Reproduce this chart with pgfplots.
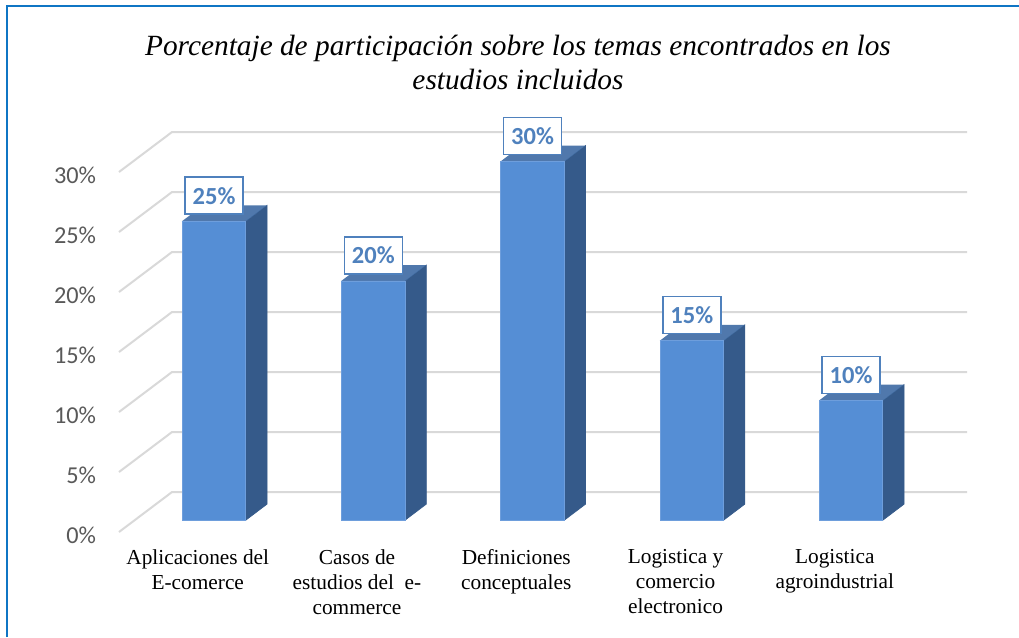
\documentclass[border=0pt]{standalone}
\usepackage{fontspec}
\setmainfont{Liberation Serif}
\newfontfamily\calfont{Carlito}
\usepackage{pgfplots}
\pgfplotsset{compat=1.18}
\definecolor{front}{HTML}{558ED5}
\definecolor{edge}{HTML}{6E9EDC}
\definecolor{side}{HTML}{355A8A}
\definecolor{topf}{HTML}{3D6AA3}
\definecolor{lab}{HTML}{4F81BD}
\definecolor{gridc}{HTML}{D9D9D9}
\definecolor{framec}{HTML}{0F75C4}
\definecolor{tickc}{HTML}{595959}
\begin{document}
\begin{tikzpicture}[x=1pt,y=1pt]
\useasboundingbox (0,0) rectangle (764.25,477.75);
\fill[white] (0,0) rectangle (764.25,477.75);
\draw[framec,line width=1.9pt] (5.1,0) -- (5.1,473.2) -- (764.25,473.2);
\node[font=\itshape\fontsize{22}{26}\selectfont,align=center,text=black,inner sep=0] at (388.5,430.8)
  {Porcentaje de participación sobre los temas encontrados en los\\estudios incluidos};
% wall and gridlines
\begin{axis}[
  at={(89.25pt,78.75pt)},anchor=south west,scale only axis,
  width=636pt,height=324pt,
  xmin=0,xmax=848,ymin=0,ymax=36,clip=false,
  xtick=\empty,
  ytick={0,5,10,15,20,25,30},
  yticklabels={0\%,5\%,10\%,15\%,20\%,25\%,30\%},
  major tick length=0pt,
  axis line style={draw=none},
  axis y line=left,axis x line=none,
  /pgf/number format/assume math mode=true,
  yticklabel style={font=\calfont\fontsize{18.2}{20}\selectfont,text=tickc,anchor=east,inner sep=0pt,xshift=-17pt,yshift=-2.8pt},
]
\pgfplotsinvokeforeach{0,5,10,15,20,25,30}{
  \addplot[gridc,line width=1.5pt,forget plot,line join=round] coordinates {(0,#1) (53,#1+3.33) (848,#1+3.33)};
}
\end{axis}
% bars
\begin{axis}[
  at={(89.25pt,87.75pt)},anchor=south west,scale only axis,
  width=636pt,height=313.7pt,
  xmin=-0.5965,xmax=4.728,ymin=0,ymax=35,clip=false,
  xtick={0,1,2,3,4},
  xticklabels={{Aplicaciones del\\E-comerce},{Casos de\\estudios del\ \ e-\\commerce},{Definiciones\\conceptuales},{Logistica y\\comercio\\electronico},{Logistica\\agroindustrial}},
  xticklabel style={font=\fontsize{16}{18.8}\selectfont,align=center,text=black,anchor=north,inner sep=0pt,xshift=-12.2pt,yshift=-21.8pt},
  major tick length=0pt,
  axis line style={draw=none},
  axis x line=bottom,axis y line=none,
  /pgf/number format/assume math mode=true,
]
% labels (boxes), lying behind the top faces
\addplot[draw=none,mark=none,point meta=y,
  nodes near coords={\raisebox{-0.8pt}{\pgfmathprintnumber{\pgfplotspointmeta}\%}},
  every node near coord/.style={anchor=center,yshift=19.2pt,inner sep=0pt,minimum width=43.5pt,minimum height=27.75pt,
    draw=lab,line width=1.1pt,fill=white,text=lab,font=\calfont\bfseries\fontsize{18.4}{20}\selectfont}]
  coordinates {(0,25) (1,20) (2,30) (3,15) (4,10)};
% side faces
\addplot[fill=side,draw=side,line width=.5pt] coordinates {(0.201,0) (0.333,1.33) (0.333,26.33) (0.201,25)} -- cycle;
\addplot[fill=side,draw=side,line width=.5pt] coordinates {(1.201,0) (1.333,1.33) (1.333,21.33) (1.201,20)} -- cycle;
\addplot[fill=side,draw=side,line width=.5pt] coordinates {(2.201,0) (2.333,1.33) (2.333,31.33) (2.201,30)} -- cycle;
\addplot[fill=side,draw=side,line width=.5pt] coordinates {(3.201,0) (3.333,1.33) (3.333,16.33) (3.201,15)} -- cycle;
\addplot[fill=side,draw=side,line width=.5pt] coordinates {(4.201,0) (4.333,1.33) (4.333,11.33) (4.201,10)} -- cycle;
% top faces
\addplot[fill=topf,draw=none,fill opacity=.9] coordinates {(-0.201,25) (-0.069,26.33) (0.333,26.33) (0.201,25)} -- cycle;
\addplot[fill=topf,draw=none,fill opacity=.9] coordinates {(0.799,20) (0.931,21.33) (1.333,21.33) (1.201,20)} -- cycle;
\addplot[fill=topf,draw=none,fill opacity=.9] coordinates {(1.799,30) (1.931,31.33) (2.333,31.33) (2.201,30)} -- cycle;
\addplot[fill=topf,draw=none,fill opacity=.9] coordinates {(2.799,15) (2.931,16.33) (3.333,16.33) (3.201,15)} -- cycle;
\addplot[fill=topf,draw=none,fill opacity=.9] coordinates {(3.799,10) (3.931,11.33) (4.333,11.33) (4.201,10)} -- cycle;
% front faces
\addplot[ybar,bar width=47.6pt,bar shift=0pt,fill=front,draw=edge,line width=.5pt]
  coordinates {(0,25) (1,20) (2,30) (3,15) (4,10)};
\end{axis}
\end{tikzpicture}
\end{document}
